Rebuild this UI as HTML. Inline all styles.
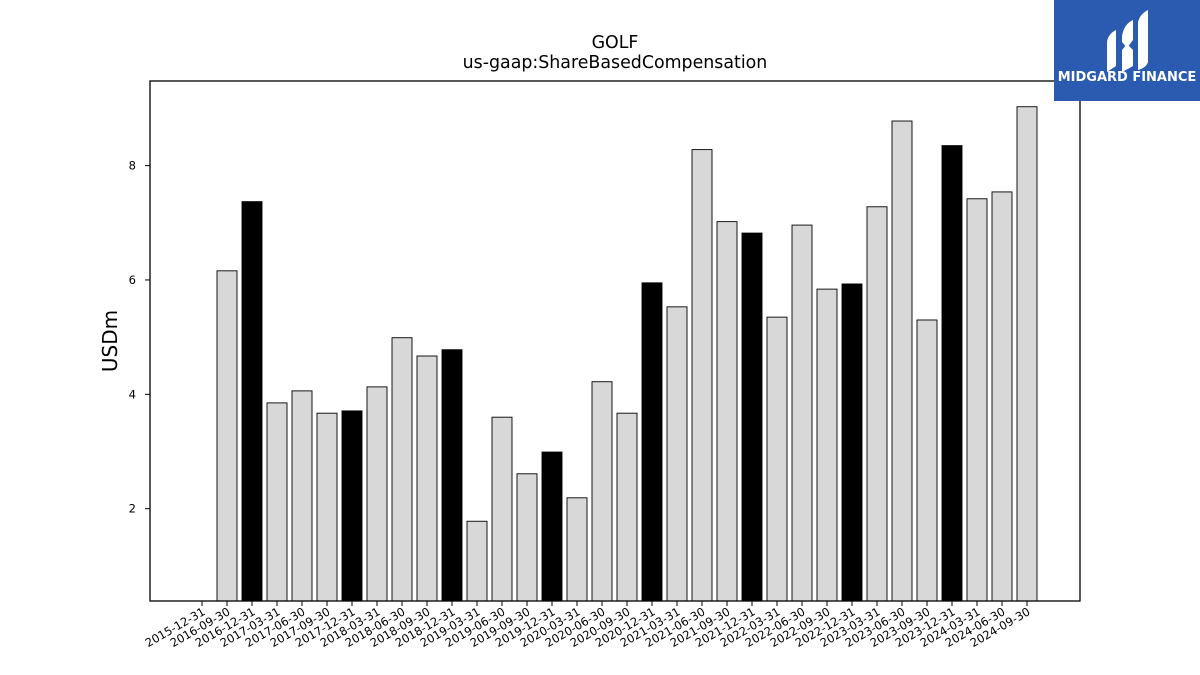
<!DOCTYPE html>
<html><head><meta charset="utf-8"><style>
body{margin:0;background:#fff;}
svg{display:block;font-family:"DejaVu Sans","Liberation Sans",sans-serif;}
</style></head><body>
<svg id="chart" width="1200" height="675" viewBox="0 0 1200 675" xmlns="http://www.w3.org/2000/svg">
<rect width="1200" height="675" fill="#fff"/>
<text x="615" y="48" font-size="17.4" text-anchor="middle">GOLF</text>
<text x="615" y="68" font-size="17.4" text-anchor="middle">us-gaap:ShareBasedCompensation</text>
<text transform="translate(117,341) rotate(-90)" font-size="20" text-anchor="middle">USDm</text>
<g id="bars"></g>
<g id="xticks"></g>
<g id="yticks"></g>
<rect x="150" y="81" width="930" height="520" fill="none" stroke="#000" stroke-width="1.3"/>
<g>
<rect x="1054" y="0" width="146" height="101" fill="#2b5bb0"/>
<path d="M1107 72 L1107 42 Q1108 34 1116 30 L1116 66 Z" fill="#fff"/>
<path d="M1122 36 Q1124 24 1133 20 L1133 40 L1127 48 L1122 42 Z" fill="#fff"/>
<path d="M1122 50 L1127 44 L1133 50 L1133 66 Q1126 70 1122 72 Z" fill="#fff"/>
<path d="M1138 70 L1138 22 Q1140 14 1148 10 L1148 62 Q1146 68 1138 70 Z" fill="#fff"/>
<text x="1127" y="81" font-size="13" font-weight="bold" fill="#fff" text-anchor="middle">MIDGARD FINANCE</text>
</g>
</svg>
<script>
const categories=["2015-12-31","2016-09-30","2016-12-31","2017-03-31","2017-06-30","2017-09-30","2017-12-31","2018-03-31","2018-06-30","2018-09-30","2018-12-31","2019-03-31","2019-06-30","2019-09-30","2019-12-31","2020-03-31","2020-06-30","2020-09-30","2020-12-31","2021-03-31","2021-06-30","2021-09-30","2021-12-31","2022-03-31","2022-06-30","2022-09-30","2022-12-31","2023-03-31","2023-06-30","2023-09-30","2023-12-31","2024-03-31","2024-06-30","2024-09-30"];
const values=[null,6.16,7.37,3.85,4.06,3.67,3.71,4.13,4.99,4.67,4.78,1.78,3.60,2.61,2.99,2.19,4.22,3.67,5.95,5.53,8.28,7.02,6.82,5.35,6.96,5.84,5.93,7.28,8.78,5.30,8.35,7.42,7.54,9.03];
const yTicks=[2,4,6,8];
const NS="http://www.w3.org/2000/svg";
const yMin=0.385,yMax=9.48,plotTop=81,plotBottom=601;
const y=v=>plotBottom-(v-yMin)/(yMax-yMin)*(plotBottom-plotTop);
const x=i=>202+i*(1027-202)/(categories.length-1);
const bw=20;
const gb=document.getElementById('bars'),gx=document.getElementById('xticks'),gy=document.getElementById('yticks');
function mk(t,a){const e=document.createElementNS(NS,t);for(const k in a)e.setAttribute(k,a[k]);return e;}
categories.forEach((c,i)=>{
  const v=values[i];
  if(v!=null){
    const r=mk('rect',{x:x(i)-bw/2,y:y(v),width:bw,height:plotBottom-y(v),fill:c.endsWith('12-31')?'#000':'#d8d8d8',stroke:'#000','stroke-width':0.9});
    
    
    gb.appendChild(r);
  }
  const tk=mk('line',{x1:x(i),x2:x(i),y1:plotBottom,y2:plotBottom+5,stroke:'#000'});
  
  
  gx.appendChild(tk);
  const t=mk('text',{transform:`translate(${x(i)+4},${plotBottom+13}) rotate(-30)`,'font-size':11.5,'text-anchor':'end'});
  
  
  t.textContent=c;gx.appendChild(t);
});
yTicks.forEach(v=>{
  const tk=mk('line',{x1:145,x2:150,y1:y(v),y2:y(v),stroke:'#000'});
  
  
  gy.appendChild(tk);
  const t=mk('text',{x:136,y:y(v)+4,'font-size':11.5,'text-anchor':'end'});
  
  
  t.textContent=v;gy.appendChild(t);
});
</script>
</body></html>
